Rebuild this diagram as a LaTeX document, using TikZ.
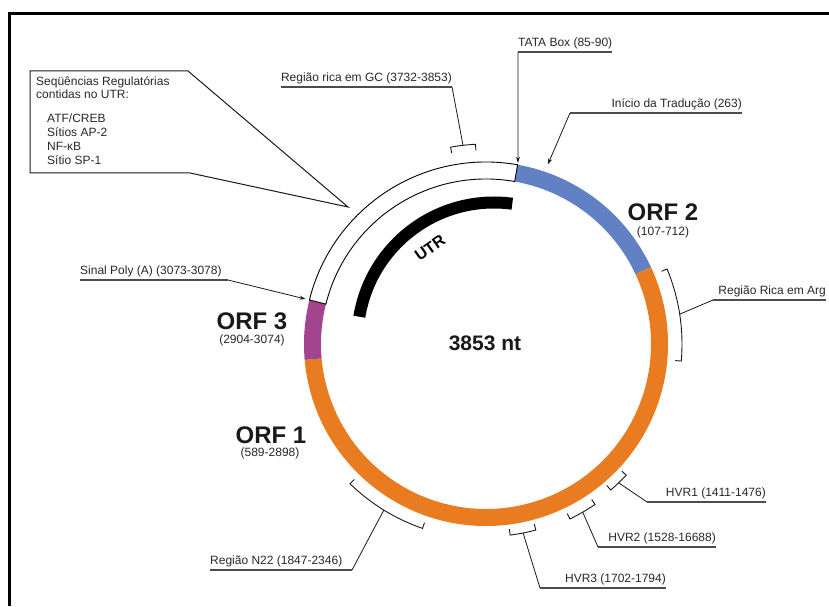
\documentclass[tikz,border=0pt]{standalone}
\usepackage{fontspec}
\setmainfont{Liberation Sans}
\usetikzlibrary{arrows.meta}
\definecolor{orfor}{RGB}{233,124,32}
\definecolor{orfbl}{RGB}{98,128,196}
\definecolor{orfpu}{RGB}{162,68,142}
\definecolor{txtc}{RGB}{40,40,40}
\newcommand\brkt[4]{%
  \pgfmathsetmacro\bA{#1-#2}%
  \pgfmathsetmacro\bB{#1+#2}%
  \pgfmathsetmacro\bR{#3-6}%
  \draw[brk] (\bA:\bR) -- (\bA:#3) arc[start angle=\bA, end angle=\bB, radius=#3] -- (\bB:\bR);
  \coordinate (#4) at (#1:#3);}
\begin{document}
\begin{tikzpicture}[x=1pt,y=1pt,
  lbl/.style={font=\fontsize{12}{14}\selectfont, text=txtc, inner xsep=0pt, inner ysep=2.5pt, text height=9pt, text depth=3pt},
  boxt/.style={font=\fontsize{12}{14}\selectfont, text=txtc, inner sep=0pt, anchor=base west},
  orf/.style={font=\fontsize{24}{28}\selectfont\bfseries, text=black!90, inner sep=0pt},
  rng/.style={font=\fontsize{12}{14}\selectfont, text=txtc, inner sep=0pt},
  ul/.style={draw=black!70, line width=1.4pt},
  lead/.style={draw=black!90, line width=0.8pt},
  arr/.style={-{Stealth[length=6pt,width=4pt]}},
  brk/.style={draw=black!90, line width=0.9pt},
  ring/.style={line width=0.9pt, draw=black, fill=white}]
\useasboundingbox (0,0) rectangle (829,606);
\fill[white] (0,0) rectangle (829,606);
% frame
\draw[line width=3pt] (9.5,0) -- (9.5,592.2) -- (829,592.2);

% ring
\coordinate (C) at (486,262);
\begin{scope}[shift={(C)}]
  \fill[orfbl] (25:182) arc[start angle=25,end angle=80,radius=182] -- (80:165) arc[start angle=80,end angle=25,radius=165] -- cycle;
  \fill[orfor] (-175:182) arc[start angle=-175,end angle=25,radius=182] -- (25:165) arc[start angle=25,end angle=-175,radius=165] -- cycle;
  \fill[orfpu] (166:182) arc[start angle=166,end angle=185,radius=182] -- (185:165) arc[start angle=185,end angle=166,radius=165] -- cycle;
  \draw[ring] (80:182) arc[start angle=80,end angle=166,radius=182] -- (166:165) arc[start angle=166,end angle=80,radius=165] -- cycle;
  \brkt{96.6}{3.6}{200}{gcB}
  \brkt{8.75}{13.75}{196}{argB}
  \brkt{238.4}{12.6}{195}{nB}
  \brkt{-46.3}{3.2}{192}{h1B}
  \brkt{-60.1}{4.3}{194}{h2B}
  \brkt{-78.9}{3.9}{192.6}{h3B}
  \coordinate (tataT) at (80:184);
  \coordinate (iniT) at (71:190);
  \coordinate (polyT) at (166:186);
\end{scope}

% UTR arc
\draw[line width=12pt] (494,267) ++(82.3:136.5) arc[start angle=82.3, end angle=170.6, radius=136.5];
\node[font=\fontsize{16}{18}\selectfont\bfseries, rotate=35, inner sep=0pt] (utr) at (430,358) {UTR};
\node[font=\fontsize{21}{24}\selectfont\bfseries, text=black!90, inner sep=0pt] (nt) at (485,263) {3853 nt};

% ORF labels
\node[orf] (orf2) at (663,393.5) {ORF 2};
\node[rng] (orf2r) at (663,374) {(107-712)};
\node[orf] (orf3) at (252,285) {ORF 3};
\node[rng] (orf3r) at (252,266) {(2904-3074)};
\node[orf] (orf1) at (271,171) {ORF 1};
\node[rng] (orf1r) at (270,153) {(589-2898)};

% callout box
\draw[line width=1pt, draw=black!90] (30,535) -- (188,535) -- (348,399) -- (190,433) -- (30,433) -- cycle;
\node[boxt] (b1) at (36,520) {Seqüências Regulatórias};
\node[boxt] (b2) at (36,507) {contidas no UTR:};
\node[boxt] (b3) at (47,483.7) {ATF/CREB};
\node[boxt] (b4) at (47,469.5) {Sítios AP-2};
\node[boxt] (b5) at (47,455.5) {NF-κB};
\node[boxt] (b6) at (47,441) {Sítio SP-1};

% GC
\node[lbl, anchor=south east] (gcL) at (452,519) {Região rica em GC (3732-3853)};
\draw[ul] (gcL.south west) -- (gcL.south east);
\draw[lead] (gcL.south east) -- (gcB);

% TATA
\node[lbl, anchor=south west] (tataL) at (518,554) {TATA Box (85-90)};
\draw[ul] (tataL.south west) -- (tataL.south east);
\draw[lead,arr] (tataL.south west) -- (tataT);

% Inicio
\node[lbl, anchor=south east] (iniL) at (742,493) {Início da Tradução (263)};
\coordinate (iniJ) at (570,493);
\draw[ul] (iniJ) -- (iniL.south east);
\draw[lead,arr] (iniJ) -- (iniT);

% Arg
\node[lbl, anchor=south east] (argL) at (826,306) {Região Rica em Arg};
\coordinate (argJ) at (713,306);
\draw[ul] (argJ) -- (argL.south east);
\draw[lead] (argJ) -- (argB);

% Poly A
\node[lbl, anchor=south west] (polyL) at (80,326) {Sinal Poly (A) (3073-3078)};
\coordinate (polyJ) at (228,326);
\draw[ul] (polyL.south west) -- (polyJ);
\draw[lead,arr] (polyJ) -- (polyT);

% N22
\node[lbl, anchor=south west] (n22L) at (210,36) {Região N22 (1847-2346)};
\coordinate (n22J) at (352,36);
\draw[ul] (n22L.south west) -- (n22J);
\draw[lead] (n22J) -- (nB);

% HVR1
\node[lbl, anchor=south east] (h1L) at (766,104) {HVR1 (1411-1476)};
\coordinate (h1J) at (647,104);
\draw[ul] (h1J) -- (h1L.south east);
\draw[lead] (h1J) -- (h1B);

% HVR2
\node[lbl, anchor=south east] (h2L) at (716,59) {HVR2 (1528-16688)};
\coordinate (h2J) at (598,59);
\draw[ul] (h2J) -- (h2L.south east);
\draw[lead] (h2J) -- (h2B);

% HVR3
\node[lbl, anchor=south east] (h3L) at (666,18) {HVR3 (1702-1794)};
\coordinate (h3J) at (540,18);
\draw[ul] (h3J) -- (h3L.south east);
\draw[lead] (h3J) -- (h3B);
\end{tikzpicture}
\end{document}
